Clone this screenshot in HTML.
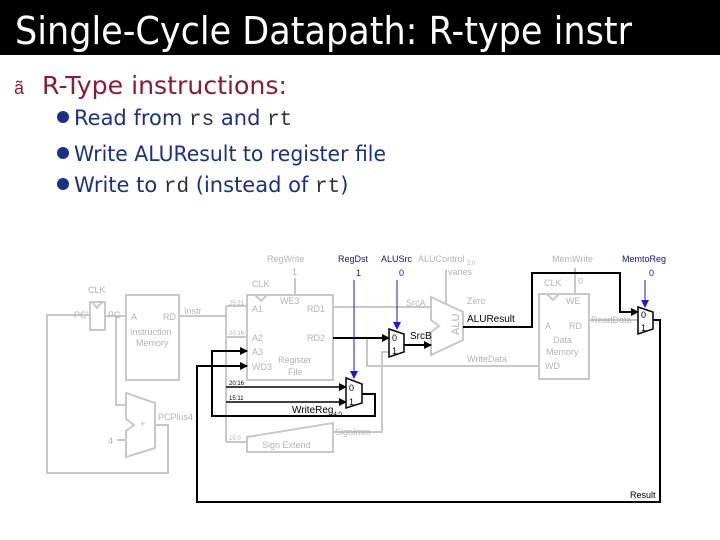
<!DOCTYPE html>
<html><head><meta charset="utf-8"><style>
html,body{margin:0;padding:0;background:#fff;}
svg{display:block;}
</style></head><body>
<svg width="720" height="540" viewBox="0 0 720 540" xmlns="http://www.w3.org/2000/svg" font-family="Liberation Sans, sans-serif">
<defs>
<marker id="ab" markerWidth="8" markerHeight="8" refX="7" refY="4" orient="auto" markerUnits="userSpaceOnUse"><path d="M0,0 L8,4 L0,8 z" fill="#000"/></marker>
<marker id="abl" markerWidth="8" markerHeight="8" refX="7" refY="4" orient="auto" markerUnits="userSpaceOnUse"><path d="M0,0 L8,4 L0,8 z" fill="#1a1ad0"/></marker>
</defs>
<rect x="0" y="0" width="720" height="55" fill="#000"/>
<text x="15" y="44" fill="#fff" font-size="38" textLength="617" lengthAdjust="spacingAndGlyphs" font-family="DejaVu Sans, sans-serif">Single-Cycle Datapath: R-type instr</text>
<text x="14" y="94" fill="#8b1a3a" font-size="18">ã</text>
<text x="42" y="94" fill="#8b1a3a" font-size="25" textLength="245" lengthAdjust="spacingAndGlyphs" font-family="DejaVu Sans, sans-serif">R-Type instructions:</text>
<g fill="#1c2f86" font-size="21" font-family="DejaVu Sans, sans-serif">
<circle cx="63" cy="117" r="6"/><circle cx="63" cy="153" r="6"/><circle cx="63" cy="184" r="6"/>
<text x="74" y="125">Read from <tspan font-family="Liberation Mono, monospace" fill="#333">rs</tspan> and <tspan font-family="Liberation Mono, monospace" fill="#333">rt</tspan></text>
<text x="74" y="161" textLength="312" lengthAdjust="spacingAndGlyphs">Write ALUResult to register file</text>
<text x="74" y="192">Write to <tspan font-family="Liberation Mono, monospace" fill="#333">rd</tspan> (instead of <tspan font-family="Liberation Mono, monospace" fill="#333">rt</tspan>)</text>
</g>
<!-- gray diagram -->
<g stroke="#c8c8c8" stroke-width="2" fill="none">
<rect x="90" y="302" width="15" height="28"/>
<polyline points="92,302 97,308 102,302"/>
<polyline points="90,315 47,315 47,473 168,473 168,425 155,425"/>
<line x1="105" y1="316" x2="126" y2="316"/>
<polyline points="116,316 116,405 126,405"/>
<rect x="126" y="295" width="53" height="85"/>
<line x1="179" y1="316" x2="226" y2="316"/>
<line x1="226" y1="306" x2="226" y2="442"/>
<line x1="226" y1="306" x2="247" y2="306"/>
<line x1="226" y1="337" x2="247" y2="337"/>
<line x1="226" y1="442" x2="247" y2="442"/>
<path d="M126,393 L155,403 L155,448 L126,457 L126,431 L134,425 L126,419 Z"/>
<line x1="117" y1="440" x2="126" y2="440"/>
<rect x="247" y="295" width="86" height="85"/>
<polyline points="255,295 261,301 267,295"/>
<line x1="295" y1="278" x2="295" y2="295"/>
<path d="M247,437 L333,423 L333,452 L247,452 Z"/>
<polyline points="333,432 382,432 382,352 389,352"/>
<line x1="333" y1="307" x2="431" y2="307"/>
<polyline points="367,338 367,366 539,366"/>
<path d="M431,297 L463,312 L463,340 L431,355 L431,332 L439,326 L431,320 Z"/>
<line x1="446" y1="270" x2="446" y2="304"/>
<rect x="539" y="294" width="50" height="85"/>
<polyline points="547,294 553,300 559,294"/>
<line x1="575" y1="268" x2="575" y2="294"/>
<line x1="589" y1="320" x2="638" y2="320"/>
</g>
<g fill="#b4b4b4" font-size="9">
<text x="88" y="293">CLK</text>
<text x="74" y="318">PC'</text>
<text x="108" y="318">PC</text>
<text x="131" y="320">A</text><text x="163" y="320">RD</text>
<text x="130" y="335">Instruction</text><text x="136" y="346">Memory</text>
<text x="184" y="314">Instr</text>
<text x="158" y="420">PCPlus4</text>
<text x="108" y="444">4</text>
<text x="140" y="427">+</text>
<text x="267" y="262">RegWrite</text>
<text x="292" y="275">1</text>
<text x="252" y="287">CLK</text>
<text x="280" y="304">WE3</text>
<text x="252" y="312">A1</text><text x="307" y="312">RD1</text>
<text x="252" y="341">A2</text><text x="307" y="341">RD2</text>
<text x="252" y="355">A3</text>
<text x="252" y="370">WD3</text>
<text x="278" y="363">Register</text><text x="288" y="375">File</text>
<text x="262" y="448">Sign Extend</text>
<text x="335" y="435">SignImm</text>
<text x="406" y="306">SrcA</text>
<text x="467" y="304">Zero</text>
<text x="418" y="262">ALUControl</text><text x="467" y="265" font-size="6">2:0</text>
<text x="448" y="275">varies</text>
<text x="459" y="335" font-size="11" transform="rotate(-90 459 335)">ALU</text>
<text x="467" y="362">WriteData</text>
<text x="552" y="262">MemWrite</text>
<text x="578" y="284">0</text>
<text x="544" y="286">CLK</text>
<text x="566" y="304">WE</text>
<text x="545" y="329">A</text><text x="569" y="329">RD</text>
<text x="553" y="343">Data</text><text x="546" y="355">Memory</text>
<text x="545" y="369">WD</text>
<text x="591" y="323">ReadData</text>
<text x="229" y="305" font-size="6">25:21</text>
<text x="229" y="335" font-size="6">20:16</text>
<text x="229" y="440" font-size="6">15:0</text>
</g>
<!-- black paths -->
<g stroke="#000" stroke-width="2" fill="none">
<line x1="333" y1="338" x2="389" y2="338" marker-end="url(#ab)"/>
<line x1="404" y1="345" x2="431" y2="345" marker-end="url(#ab)"/>
<polyline points="463,327 532,327 532,273 620,273 620,312 638,312" marker-end="url(#ab)"/>
<polyline points="653,320 660,320 660,502 197,502 197,366 247,366" marker-end="url(#ab)"/>
<line x1="226" y1="387" x2="346" y2="387" stroke-width="1.5" marker-end="url(#ab)"/>
<line x1="226" y1="402" x2="346" y2="402" stroke-width="1.5" marker-end="url(#ab)"/>
<polyline points="362,394 375,394 375,416 212,416 212,351 247,351" marker-end="url(#ab)"/>
</g>
<g stroke="#000" stroke-width="1.5" fill="#fff">
<path d="M346,378 L362,384 L362,403 L346,408 Z"/>
<path d="M389,329 L404,334 L404,352 L389,357 Z"/>
<path d="M638,307 L653,312 L653,329 L638,334 Z"/>
</g>
<g fill="#000" font-size="9">
<text x="349" y="391">0</text><text x="349" y="405">1</text>
<text x="392" y="341">0</text><text x="392" y="354">1</text>
<text x="641" y="318">0</text><text x="641" y="331">1</text>
<text x="410" y="339" font-size="10">SrcB</text>
<text x="467" y="322" font-size="10">ALUResult</text>
<text x="292" y="413" font-size="10">WriteReg<tspan font-size="6" dy="3">4:0</tspan></text>
<text x="630" y="498">Result</text>
<text x="229" y="385" font-size="6">20:16</text>
<text x="229" y="400" font-size="6">15:11</text>
</g>
<!-- blue controls -->
<g stroke="#1a1ad0" stroke-width="1" fill="none">
<line x1="354" y1="280" x2="354" y2="378" marker-end="url(#abl)"/>
<line x1="397" y1="280" x2="397" y2="329" marker-end="url(#abl)"/>
<line x1="645" y1="280" x2="645" y2="307" marker-end="url(#abl)"/>
</g>
<g fill="#14148c" font-size="9">
<text x="338" y="262">RegDst</text><text x="356" y="276">1</text>
<text x="381" y="262">ALUSrc</text><text x="399" y="276">0</text>
<text x="622" y="262">MemtoReg</text><text x="649" y="276">0</text>
</g>
</svg>
</body></html>
